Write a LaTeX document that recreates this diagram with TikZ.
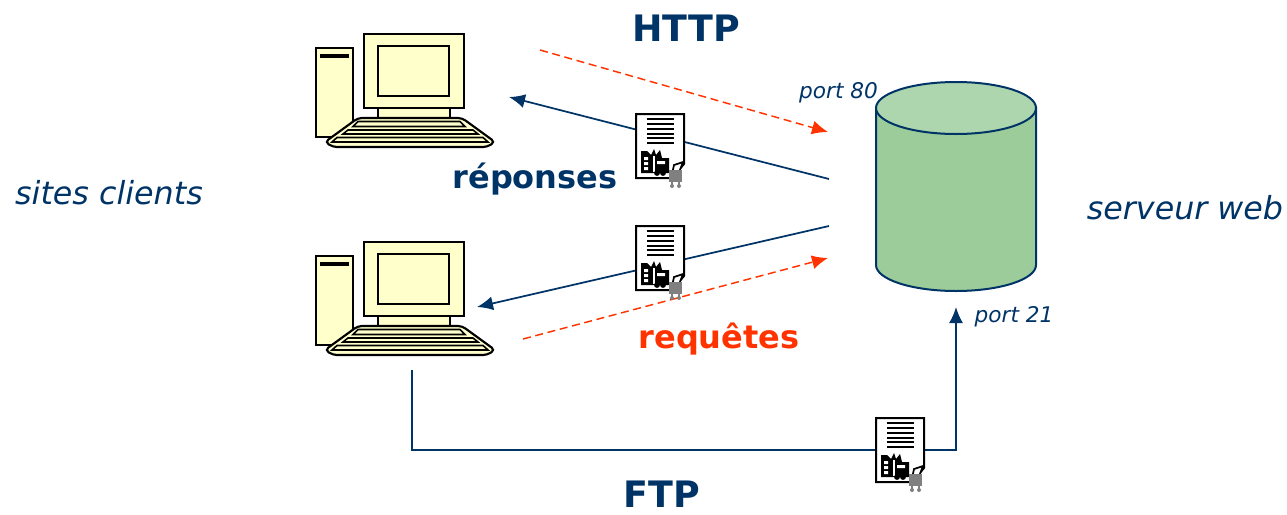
\documentclass[tikz,border=0pt]{standalone}
\usepackage{fontspec}
\setmainfont{DejaVu Sans}
\usepackage{tikz}
\usetikzlibrary{calc,arrows.meta}
\definecolor{navy}{HTML}{003366}
\definecolor{redo}{HTML}{FF3300}
\definecolor{cream}{HTML}{FFFFCC}
\definecolor{bodygreen}{HTML}{9CCC9A}
\definecolor{topgreen}{HTML}{AED6AE}
\tikzset{
  rep/.style={-{Latex[length=12pt,width=10.5pt]},navy,line width=1.3pt},
  req/.style={-{Latex[length=12pt,width=10.5pt]},redo,dash pattern=on 6pt off 3.5pt,line width=1.1pt},
  titlebf/.style={text=navy,font=\fontsize{27.3}{30}\selectfont\bfseries},
  sidelab/.style={text=navy,font=\fontsize{23.8}{26}\selectfont\itshape},
  portlab/.style={text=navy,font=\fontsize{16.2}{19}\selectfont\itshape},
  pics/computer/.style={code={
    \draw[black,fill=cream,line width=1.6pt] (0,14) rectangle (37,103);
    \draw[black,line width=3pt] (4,22) -- (33,22);
    \draw[black,fill=cream,line width=1.6pt] (48,0) rectangle (148,74);
    \draw[black,fill=cream,line width=1.6pt] (62,12) rectangle (133,62);
    \draw[black,fill=cream,line width=1.6pt] (62,74) rectangle (134,84);
    \draw[black,fill=cream,line width=1.6pt,rounded corners=3pt] (42,84) -- (146,84) -- (179,108) -- (171,113) -- (17,113) -- (9,108) -- cycle;
    \draw[black,fill=cream,line width=1.2pt] (42,87.5) -- (144,87.5) -- (149,92.5) -- (37,92.5) -- cycle;
    \draw[black,fill=cream,line width=1.2pt] (32,96) -- (157,96) -- (162,100) -- (27,100) -- cycle;
    \draw[black,fill=cream,line width=1.2pt] (21,103.5) -- (167,103.5) -- (172,108) -- (16,108) -- cycle;
  }},
  pics/docicon/.style={code={
    \draw[black,fill=white,line width=1.5pt] (0,0) -- (48,0) -- (48,50) -- (36,64) -- (0,64) -- cycle;
    \foreach \y in {5,10,15,20,24,29}
      \draw[black,line width=1.1pt] (11,\y) -- (38,\y);
    % usine
    \fill[black] (5,42) -- (5,37) -- (11,37) -- (15,41) -- (18,35) -- (20,41) -- (24,36) -- (26,44) -- (33,44) -- (33,59) -- (5,59) -- cycle;
    \fill[white] (8,43) rectangle (12,46) (8,48) rectangle (12,51) (8,53) rectangle (12,56) (21,47) rectangle (29,50);
    \fill[white] (17,42) rectangle (18.5,58);
    \fill[black] (27,59) circle (2.2pt) (21,59) circle (2.2pt);
    % stylo
    \draw[black,fill=white,line width=1.3pt] (35,65) -- (38,51) -- (47,48) -- (42,61);
    % chariot
    \fill[gray] (33,56) rectangle (46,68);
    \draw[gray,line width=1pt] (36,68) -- (36,71) (43,68) -- (43,71);
    \fill[gray] (36,72) circle (1.5pt) (43,72) circle (1.5pt);
  }}
}
\begin{document}
\begin{tikzpicture}[x=0.75pt,y=-0.75pt]
  \useasboundingbox (0,0) rectangle (1287,514);
  % serveur
  \draw[navy,fill=bodygreen,line width=1.5pt] (876,108) -- (876,265) arc[start angle=180,end angle=0,x radius=80,y radius=26] -- (1036,108) -- cycle;
  \draw[navy,fill=topgreen,line width=1.5pt] (956,108) ellipse[x radius=80,y radius=26];
  % postes
  \pic at (316,34) {computer};
  \pic at (316,242) {computer};
  % extremites
  \coordinate (rep1s) at (829,179);
  \coordinate (rep1e) at (509,97);
  \coordinate (rep2s) at (829,226);
  \coordinate (rep2e) at (477,307);
  \coordinate (req1s) at (540,50);
  \coordinate (req1e) at (828,132);
  \coordinate (req2s) at (523,339);
  \coordinate (req2e) at (828,258);
  \coordinate (ftps) at (412,370);
  \coordinate (ftpc) at (412,450);
  \coordinate (ftpd) at (956,450);
  \coordinate (ftpe) at (956,307);
  \draw[rep](rep1s)--(rep1e);
  \draw[rep](rep2s)--(rep2e);
  \draw[req](req1s)--(req1e);
  \draw[req](req2s)--(req2e);
  \draw[rep](ftps)--(ftpc)--(ftpd)--(ftpe);
  % documents
  \pic at (636,114) {docicon};
  \pic at (636,226) {docicon};
  \pic at (876,418) {docicon};
  % textes
  \node[titlebf](http)at(686,28){HTTP};
  \node[titlebf,inner sep=0pt](ftp)at(662,494){FTP};
  \node[text=navy,font=\fontsize{24}{27}\selectfont\bfseries](reponses)at(535,179){réponses};
  \node[text=redo,font=\fontsize{24}{27}\selectfont\bfseries](requetes)at(719,339){requêtes};
  \node[sidelab](clients)at(109,193){sites clients};
  \node[sidelab](serveur)at(1185,208){serveur web};
  \node[portlab](port80)at(838.5,93){port 80};
  \node[portlab](port21)at(1014,317){port 21};
\end{tikzpicture}
\end{document}
